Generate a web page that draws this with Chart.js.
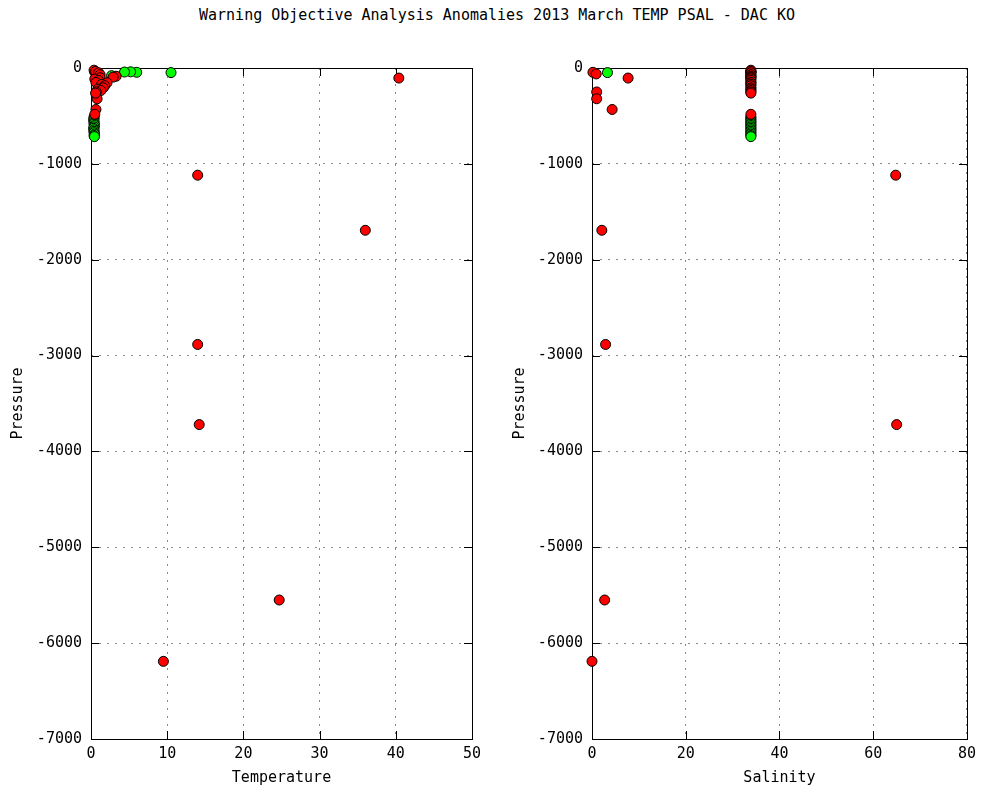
<!DOCTYPE html>
<html>
<head>
<meta charset="utf-8">
<script src="https://cdn.jsdelivr.net/npm/chart.js@4.4.1/dist/chart.umd.min.js"></script>
<style>
  body { margin: 0; background: #fff; }
  #wrap { position: relative; width: 982px; height: 792px; }
  #title {
    position: absolute; top: 6px; left: 6px; width: 982px; text-align: center;
    font: 15px "DejaVu Sans Mono", monospace; line-height: 18px; color: #000;
  }
  .box { position: absolute; top: 0; width: 491px; height: 792px; }
</style>
</head>
<body>
<div id="wrap">
  <div id="title">Warning Objective Analysis Anomalies 2013 March TEMP PSAL - DAC KO</div>
  <div class="box" style="left:0"><canvas id="temp"></canvas></div>
  <div class="box" style="left:491px"><canvas id="psal"></canvas></div>
</div>
<script>
// red = flagged anomalies, green = others
const redPres = [-105, -1118, -1693, -2884, -3720, -5550, -6190, -45, -62, -250, -321, -433,
                 -23, -35, -50, -70, -86, -95, -102, -115, -130, -151, -154, -170, -185, -207, -220, -235, -250, -262, -483];
const redTemp = [40.4, 14.0, 36.0, 14.0, 14.2, 24.7, 9.5, 0.5, 0.75, 0.9, 0.8, 0.65,
                 0.4, 0.6, 1.0, 1.2, 3.3, 2.9, 1.2, 0.5, 1.0, 0.65, 2.1, 1.4, 1.8, 1.6, 0.9, 1.3, 0.7, 0.6, 0.5];
const redPsal = [7.7, 64.8, 2.1, 2.9, 65.0, 2.7, 0.0, 0.2, 0.9, 1.0, 1.0, 4.3,
                 33.9, 33.9, 33.9, 33.9, 33.9, 33.9, 33.9, 33.9, 33.9, 33.9, 33.9, 33.9, 33.9, 33.9, 33.9, 33.9, 33.9, 33.9, 33.9];

const greenPres = [-48, -45, -40, -42, -80, -510, -525, -540, -555, -570, -585, -600, -615, -630, -645, -660, -675, -690, -705, -716];
const greenTemp = [10.5, 6.0, 5.2, 4.4, 2.7, 0.4, 0.4, 0.35, 0.4, 0.4, 0.4, 0.45, 0.4, 0.35, 0.4, 0.4, 0.4, 0.45, 0.4, 0.45];
const greenPsal = [3.3, 33.9, 33.9, 33.9, 33.9, 33.9, 33.9, 33.9, 33.9, 33.9, 33.9, 33.9, 33.9, 33.9, 33.9, 33.9, 33.9, 33.9, 33.9, 33.9];

const tempTicks = [0, 50, 10];
const psalTicks = [0, 80, 20];
const presTicks = [-7000, 0, 1000];

const FONT = { family: '"DejaVu Sans Mono", monospace', size: 15 };

const pairs = (xs, ys) => xs.map((v, i) => ({ x: v, y: ys[i] }));

// gnuplot style border with inward, mirrored tick marks
const frame = {
  id: 'frame',
  beforeDatasetsDraw(chart) {
    const { ctx, chartArea: a, scales: { x, y } } = chart;
    ctx.save();
    ctx.strokeStyle = '#000';
    ctx.lineWidth = 1;
    ctx.beginPath();
    x.ticks.forEach(t => {
      const px = Math.round(x.getPixelForValue(t.value)) + 0.5;
      ctx.moveTo(px, a.bottom); ctx.lineTo(px, a.bottom - 8);
      ctx.moveTo(px, a.top); ctx.lineTo(px, a.top + 8);
    });
    y.ticks.forEach(t => {
      const py = Math.round(y.getPixelForValue(t.value)) + 0.5;
      ctx.moveTo(a.left, py); ctx.lineTo(a.left + 8, py);
      ctx.moveTo(a.right, py); ctx.lineTo(a.right - 8, py);
    });
    ctx.stroke();
    ctx.strokeRect(Math.round(a.left) + 0.5, Math.round(a.top) + 0.5,
                   Math.round(a.right - a.left), Math.round(a.bottom - a.top));
    ctx.restore();
  }
};

function makeChart(id, xTicks, xTitle, redX, greenX, yAxisW, yTitlePad, rightPad) {
  new Chart(document.getElementById(id), {
    type: 'scatter',
    data: {
      datasets: [
        { data: pairs(redX, redPres), backgroundColor: '#ff0000', borderColor: '#000', borderWidth: 1, pointRadius: 5, clip: false },
        { data: pairs(greenX, greenPres), backgroundColor: '#00ff00', borderColor: '#000', borderWidth: 1, pointRadius: 5, clip: false },
      ],
    },
    options: {
      responsive: true,
      maintainAspectRatio: false,
      animation: false,
      events: [],
      layout: { padding: { top: 68, right: rightPad, bottom: 0, left: 0 } },
      plugins: { legend: { display: false }, tooltip: { enabled: false } },
      scales: {
        x: {
          type: 'linear', min: xTicks[0], max: xTicks[1],
          afterFit: s => { s.height = 53; },
          ticks: { stepSize: xTicks[2], color: '#000', font: FONT, padding: 6, maxRotation: 0, callback: v => String(v) },
          grid: { color: '#888', lineWidth: 1, drawTicks: false },
          border: { display: false, dash: [2, 6] },
          title: { display: true, text: xTitle, color: '#000', font: FONT, padding: { top: 0, bottom: 5 } },
        },
        y: {
          type: 'linear', min: presTicks[0], max: presTicks[1],
          afterFit: s => { s.width = yAxisW; },
          ticks: { stepSize: presTicks[2], color: '#000', font: FONT, padding: 9, callback: v => String(v) },
          grid: { color: '#888', lineWidth: 1, drawTicks: false },
          border: { display: false, dash: [2, 6] },
          title: { display: true, text: 'Pressure', color: '#000', font: FONT, padding: { top: yTitlePad, bottom: 0 } },
        },
      },
    },
    plugins: [frame],
  });
}

makeChart('temp', tempTicks, 'Temperature', redTemp, greenTemp, 91, 9, 19);
makeChart('psal', psalTicks, 'Salinity', redPsal, greenPsal, 101, 20, 10);
</script>
</body>
</html>
